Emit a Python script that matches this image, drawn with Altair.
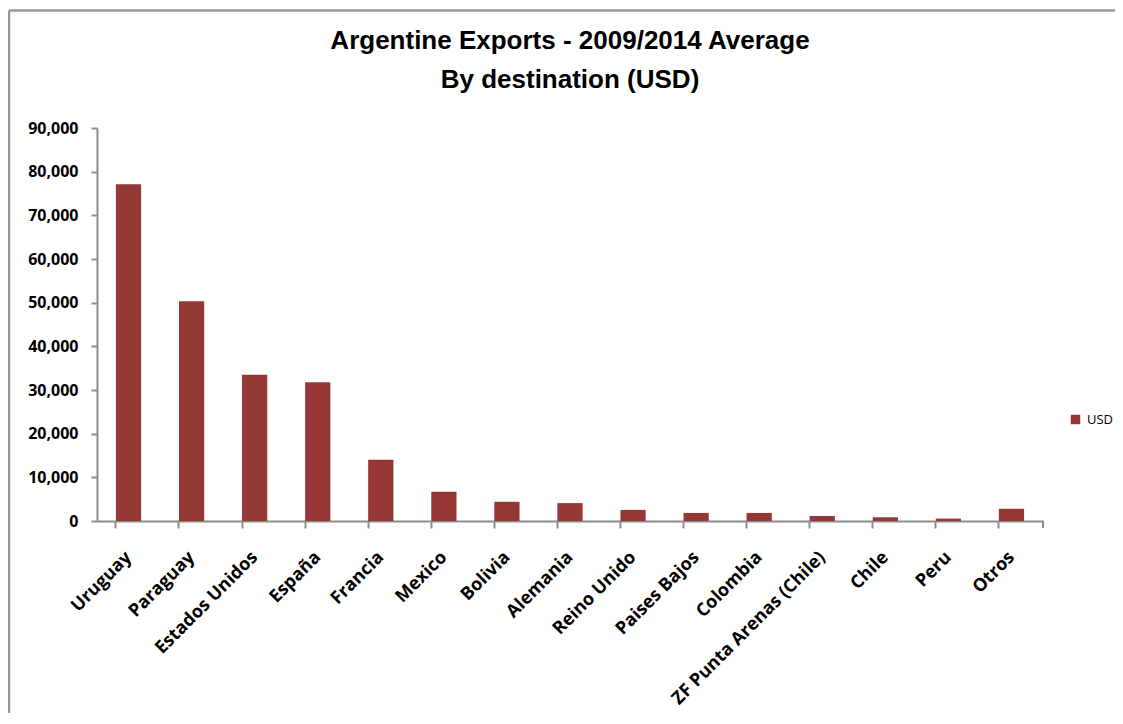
import altair as alt
import pandas as pd

countries = ["Uruguay", "Paraguay", "Estados Unidos", "España", "Francia", "Mexico",
             "Bolivia", "Alemania", "Reino Unido", "Paises Bajos", "Colombia",
             "ZF Punta Arenas (Chile)", "Chile", "Peru", "Otros"]
usd = [77100, 50300, 33500, 31800, 14000, 6700, 4400, 4100, 2550, 1850, 1850,
       1150, 850, 550, 2800]
series = ["USD"] * len(countries)
y_ticks = [0, 10000, 20000, 30000, 40000, 50000, 60000, 70000, 80000, 90000]
title_lines = ["Argentine Exports - 2009/2014 Average", "By destination (USD)"]

df = pd.DataFrame({"Country": countries, "USD": usd, "Series": series})

W, H = 946, 393
GRAY = "#8c8c8c"
FONT = "Open Sans"

bars = alt.Chart(df).mark_bar(color="#953735").encode(
    x=alt.X("Country:N", sort=None, title=None,
            scale=alt.Scale(paddingInner=0.6, paddingOuter=0.3),
            axis=alt.Axis(labelAngle=-45, labelFont=FONT, labelFontSize=18,
                          labelFontWeight="bold", labelColor="black",
                          bandPosition=0, tickSize=7, tickWidth=2, tickColor=GRAY,
                          domainColor=GRAY, domainWidth=2, labelPadding=20,
                          labelOffset=-6, labelLimit=400, labelOverlap=False)),
    y=alt.Y("USD:Q", title=None,
            scale=alt.Scale(domain=[0, 90000]),
            axis=alt.Axis(values=y_ticks, format=",.0f", grid=False, labelFont=FONT,
                          labelFontSize=16, labelFontWeight="bold", labelColor="black",
                          tickSize=6, tickWidth=2, tickColor=GRAY, domainColor=GRAY,
                          domainWidth=2, labelPadding=13)),
    color=alt.Color("Series:N", scale=alt.Scale(range=["#953735"]),
                    legend=alt.Legend(title=None, orient="none", legendX=972, legendY=285,
                                      symbolType="square", symbolSize=90,
                                      symbolStrokeWidth=0, labelFont=FONT,
                                      labelFontSize=13, labelColor="black",
                                      symbolOffset=0, labelOffset=5, padding=0)),
)

one = pd.DataFrame({"a": [0]})
title = alt.Chart(one).mark_text(
    text=title_lines, font="Liberation Sans", fontSize=26, fontWeight="bold",
    color="black", align="center", baseline="alphabetic", lineHeight=39,
).encode(x=alt.value(W / 2), y=alt.value(-79.5))
end_tick = alt.Chart(one).mark_rule(color=GRAY, strokeWidth=2).encode(
    x=alt.value(W), y=alt.value(H), y2=alt.value(H + 7))
frame_top = alt.Chart(one).mark_rule(color="#999999", strokeWidth=2.5).encode(
    x=alt.value(-88), x2=alt.value(W + 72), y=alt.value(-117.5))
frame_left = alt.Chart(one).mark_rule(color="#999999", strokeWidth=2.5).encode(
    x=alt.value(-88), y=alt.value(-117.5), y2=alt.value(H + 192))

chart = alt.layer(bars, title, end_tick, frame_top, frame_left).properties(
    width=W, height=H,
    autosize=alt.AutoSizeParams(type="none"),
    padding={"left": 89, "top": 120, "right": 72, "bottom": 192},
).configure_view(stroke=None)

chart.save("out.html", embed_options={"renderer": "svg", "actions": False})
